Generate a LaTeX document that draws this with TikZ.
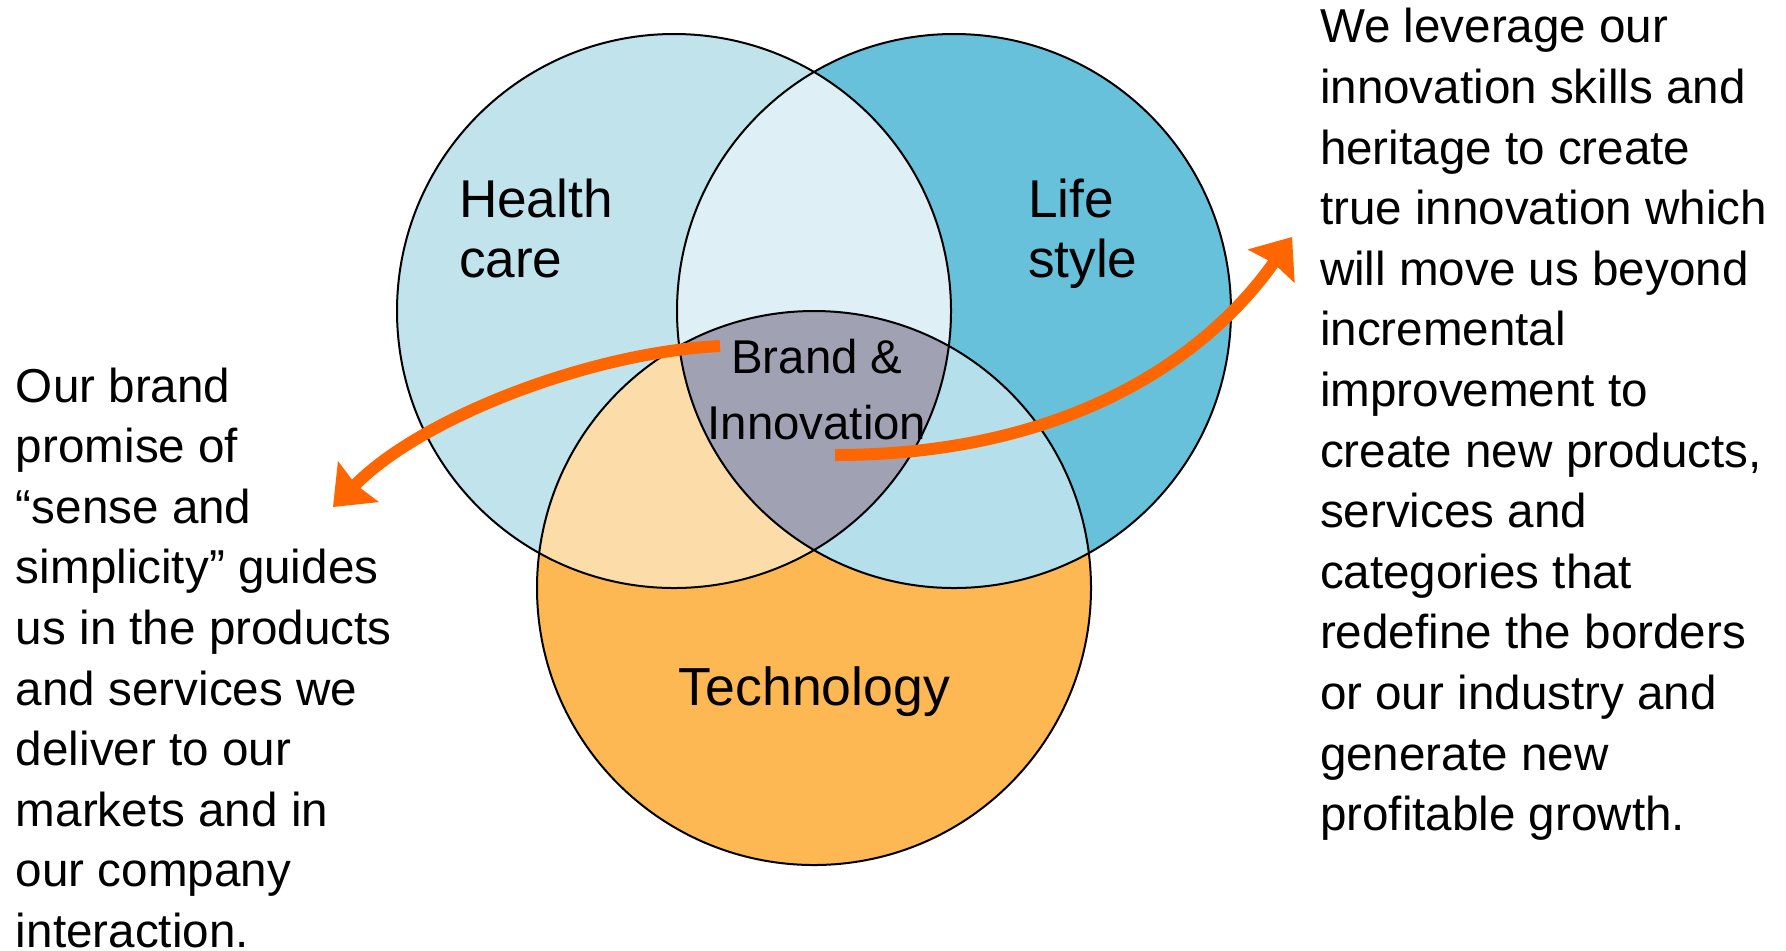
\documentclass[tikz,border=0pt]{standalone}
\usepackage{fontspec}
\setmainfont{Liberation Sans}
\usetikzlibrary{arrows.meta}

\definecolor{healthblue}{RGB}{192,227,236}
\definecolor{lifeblue}{RGB}{103,193,218}
\definecolor{techorange}{RGB}{253,184,83}
\definecolor{hlblue}{RGB}{222,240,245}
\definecolor{htpeach}{RGB}{252,220,168}
\definecolor{ltblue}{RGB}{180,223,235}
\definecolor{coregrey}{RGB}{160,162,179}
\definecolor{arroworange}{RGB}{255,102,0}

\tikzset{every picture/.style={line width=1pt}}
\tikzset{
  ring/.style={draw=black, line width=1pt},
  bigarrow/.style={draw=arroworange, line width=6pt,
    -{Stealth[length=18pt,width=29pt,inset=2pt,line width=0pt]}},
  bodytext/.style={anchor=base west, align=left, inner sep=0pt,
    font=\fontsize{23.8}{30.3}\selectfont},
  setname/.style={anchor=base west, align=left, inner sep=0pt,
    font=\fontsize{26.6}{29.9}\selectfont}
}

\def\healthset{(674,311) circle (277)}
\def\lifeset{(954,311) circle (277)}
\def\techset{(814,588) circle (277)}

\begin{document}
\begin{tikzpicture}[x=0.5pt,y=0.5pt,yscale=-1]
\useasboundingbox (0,0) rectangle (1786,950);

%Shape: Circles, single regions
\fill [healthblue] \healthset ;
\fill [lifeblue] \lifeset ;
\fill [techorange] \techset ;
%Overlaps of two
\begin{scope}
  \clip \healthset ;
  \fill [hlblue] \lifeset ;
  \fill [htpeach] \techset ;
\end{scope}
\begin{scope}
  \clip \lifeset ;
  \fill [ltblue] \techset ;
\end{scope}
%Overlap of all three
\begin{scope}
  \clip \healthset ;
  \clip \lifeset ;
  \fill [coregrey] \techset ;
\end{scope}
%Outlines
\draw [ring] \healthset ;
\draw [ring] \lifeset ;
\draw [ring] \techset ;

% Text Node (anchored on the last line)
\node (health) [setname] at (458,277.7) {Health\\care};
% Text Node
\node (life) [setname] at (1027,277.7) {Life\\style};
% Text Node
\node (tech) [anchor=base, inner sep=0pt, font=\fontsize{26.8}{30}\selectfont] at (814.5,705) {Technology};
% Text Node
\node (core) [anchor=base, align=center, inner sep=0pt, font=\fontsize{23.7}{33}\selectfont] at (817,439.3) {Brand \&\\Innovation};
% Text Node
\node (brandnote) [bodytext] at (15,947.4) {Our brand\\promise of\\“sense and\\simplicity” guides\\us in the products\\and services we\\deliver to our\\markets and in\\our company\\interaction.};
% Text Node
\node (innovnote) [bodytext] at (1319,830.7) {We leverage our\\innovation skills and\\heritage to create\\true innovation which\\will move us beyond\\incremental\\improvement to\\create new products,\\services and\\categories that\\redefine the borders\\or our industry and\\generate new\\profitable growth.};

%Arrow ends
\coordinate (leftstart) at (720,346);
\coordinate (lefttip) at (333,507);
\coordinate (rightstart) at (835,455);
\coordinate (righttip) at (1292,237);

%Curve Lines
\draw [bigarrow] (leftstart) .. controls (590,352.5) and (423,417) .. (lefttip);
%Curve Lines
\draw [bigarrow] (rightstart) .. controls (1055,455) and (1199,367.4) .. (righttip);

\end{tikzpicture}
\end{document}
